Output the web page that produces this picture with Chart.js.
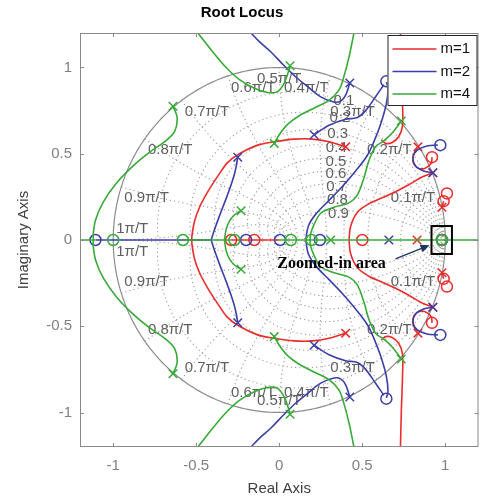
<!DOCTYPE html>
<html>
<head>
<meta charset="utf-8">
<script src="https://cdn.jsdelivr.net/npm/chart.js@4/dist/chart.umd.min.js"></script>
<style>
  html, body { margin: 0; padding: 0; background: #fff; overflow: hidden; }
  #wrap { width: 486px; height: 503px; }
</style>
</head>
<body>
<div id="wrap"><canvas id="rl" width="486" height="503"></canvas></div>
<script>
// axis ticks
const xTicks = [-1, -0.5, 0, 0.5, 1];
const yTicks = [-1, -0.5, 0, 0.5, 1];
const series = ['m=1', 'm=2', 'm=4'];
const colors = ['#ec2b2b', '#3b3fa6', '#37aa37'];

// z-grid: damping ratios and natural frequencies (x pi/T)
const zetaGrid = [0.1, 0.2, 0.3, 0.4, 0.5, 0.6, 0.7, 0.8, 0.9];
const wnGrid = [0.1, 0.2, 0.3, 0.4, 0.5, 0.6, 0.7, 0.8, 0.9, 1];

// ---- m=1 (red), upper half branches [re, im]; lower half is the mirror
const redArc = [[0.40,0.54],[0.30,0.57],[0.20,0.585],[0.09,0.585],[-0.03,0.57],[-0.13,0.55],[-0.24,0.50],[-0.31,0.45],[-0.37,0.37],[-0.43,0.28],[-0.48,0.19],[-0.51,0.11],[-0.525,0.03],[-0.527,0]];
const redHook = [[0.73,1.2],[0.735,1.0],[0.742,0.80],[0.742,0.66],[0.72,0.60],[0.68,0.565],[0.64,0.56],[0.615,0.58]];
const redLoop = [[0.835,0.54],[0.816,0.51],[0.805,0.46],[0.83,0.42],[0.875,0.415],[0.915,0.445],[0.92,0.48]];
const redTiny = [[0.98,0.19],[0.99,0.225]];
const redMid = [[0.42,0],[0.43,0.08],[0.47,0.16],[0.54,0.21],[0.62,0.245],[0.70,0.28],[0.78,0.32],[0.86,0.365],[0.925,0.39]];
const redAxis = [[-0.29,0],[0.0,0]];
const redPoles = [[0.40,0.54],[0.835,0.54],[0.98,0.19],[0.925,0.39],[0.83,0]];
const redZeros = [[0.92,0.48],[0.99,0.225],[1.01,0.27],[0.50,0],[-0.29,0],[-0.15,0],[0.98,0]];

// ---- m=2 (blue)
const blueA = [[-0.25,0.48],[-0.265,0.40],[-0.29,0.32],[-0.32,0.24],[-0.36,0.14],[-0.39,0.06],[-0.41,0]];
const blueB = [[0.425,0.91],[0.40,0.84],[0.37,0.805],[0.33,0.80],[0.25,0.83],[0.17,0.89],[0.10,0.945],[0.03,1.01],[-0.05,1.09],[-0.12,1.15],[-0.17,1.2]];
const blueC = [[0.21,0.61],[0.30,0.665],[0.40,0.70],[0.47,0.71],[0.52,0.75],[0.58,0.83],[0.63,0.90]];
const blueD = [[0.16,0],[0.175,0.08],[0.22,0.15],[0.30,0.23],[0.38,0.31],[0.46,0.40],[0.53,0.49],[0.57,0.57],[0.61,0.67],[0.645,0.79],[0.655,0.88],[0.645,0.915]];
const blueE = [[0.925,0.39],[0.87,0.40],[0.82,0.43],[0.805,0.48],[0.83,0.52],[0.89,0.545],[0.955,0.55]];
const blueAxis = [[-1.107,0],[-0.41,0]];
const bluePoles = [[-0.25,0.48],[0.425,0.91],[0.21,0.61],[0.925,0.39],[0.66,0]];
const blueZeros = [[0.645,0.92],[0.97,0.55],[-1.107,0],[-0.20,0],[0.005,0],[0.245,0],[0.98,0]];

// ---- m=4 (green)
const greenA = [[-0.64,0.775],[-0.615,0.71],[-0.63,0.63],[-0.69,0.57],[-0.78,0.51],[-0.88,0.43],[-0.98,0.33],[-1.06,0.22],[-1.105,0.12],[-1.12,0.04],[-1.12,0]];
const greenB = [[-0.49,1.2],[-0.40,1.09],[-0.32,1.0],[-0.24,0.93],[-0.15,0.88],[-0.07,0.855],[-0.01,0.86],[0.03,0.91],[0.05,0.96],[0.065,1.01]];
const greenC = [[-0.03,0.56],[0.0,0.61],[0.05,0.67],[0.12,0.72],[0.22,0.77],[0.30,0.81],[0.36,0.87],[0.39,0.95],[0.42,1.06],[0.45,1.2]];
const greenD = [[0.735,0.69],[0.68,0.62],[0.63,0.575],[0.58,0.54],[0.54,0.46],[0.51,0.36],[0.47,0.26],[0.42,0.215],[0.33,0.19],[0.25,0.155],[0.21,0.09],[0.19,0.04],[0.185,0]];
const greenE = [[-0.23,0.17],[-0.27,0.145],[-0.30,0.11],[-0.32,0.06],[-0.33,0]];
const greenAxis1 = [[-1.2,0],[-1.107,0]];
const greenAxis2 = [[-0.58,0],[-0.29,0]];
const greenAxis3 = [[0.0,0],[1.2,0]];
const greenPoles = [[-0.64,0.775],[0.065,1.01],[-0.03,0.56],[0.735,0.69],[-0.23,0.17],[0.31,0]];
const greenZeros = [[-1.0,0],[-0.58,0],[-0.27,0],[0.07,0],[0.195,0],[0.98,0]];

const FONT = "'Liberation Sans', Arial, Helvetica, sans-serif";
Chart.defaults.font.family = FONT;

// branches + their conjugates, broken by null points
function lineData(branches, axisSegs) {
  const out = [];
  branches.forEach(b => {
    [b, b.map(([x, y]) => [x, -y])].forEach(p => {
      p.forEach(([x, y]) => out.push({x, y}));
      out.push({x: null, y: null});
    });
  });
  axisSegs.forEach(s => {
    s.forEach(([x, y]) => out.push({x, y}));
    out.push({x: null, y: null});
  });
  return out;
}
function markData(pts) {
  const out = [];
  pts.forEach(([x, y]) => {
    out.push({x, y});
    if (y !== 0) out.push({x, y: -y});
  });
  return out;
}

function lineSet(label, color, data, order) {
  return { label, data, showLine: true, borderColor: color, borderWidth: 1.6,
           pointRadius: 0, tension: 0.35, spanGaps: false, order };
}
function markSet(label, color, data, style, order) {
  return { label, data, showLine: false, pointStyle: style,
           pointRadius: style === 'circle' ? 5.5 : 6,
           pointBorderWidth: 1.5, pointBorderColor: color,
           pointBackgroundColor: 'rgba(0,0,0,0)', order };
}

const datasets = [
  lineSet(series[0], colors[0], lineData([redArc, redHook, redLoop, redTiny, redMid], [redAxis]), 6),
  markSet(series[0], colors[0], markData(redPoles), 'crossRot', 5),
  markSet(series[0], colors[0], markData(redZeros), 'circle', 5),
  lineSet(series[1], colors[1], lineData([blueA, blueB, blueC, blueD, blueE], [blueAxis]), 4),
  markSet(series[1], colors[1], markData(bluePoles), 'crossRot', 3),
  markSet(series[1], colors[1], markData(blueZeros), 'circle', 3),
  lineSet(series[2], colors[2], lineData([greenA, greenB, greenC, greenD, greenE], [greenAxis1, greenAxis2, greenAxis3]), 2),
  markSet(series[2], colors[2], markData(greenPoles), 'crossRot', 1),
  markSet(series[2], colors[2], markData(greenZeros), 'circle', 1)
];

// z-plane grid drawn under the loci
const zgrid = {
  id: 'zgrid',
  beforeDatasetsDraw(chart) {
    const {ctx, chartArea: a, scales: {x, y}} = chart;
    const P = (re, im) => [x.getPixelForValue(re), y.getPixelForValue(im)];
    ctx.save();
    ctx.beginPath();
    ctx.rect(a.left, a.top, a.right - a.left, a.bottom - a.top);
    ctx.clip();

    ctx.strokeStyle = '#9c9c9c';
    ctx.lineWidth = 1.1;
    ctx.setLineDash([1.2, 3]);
    const stroke = f => {
      [1, -1].forEach(sg => {
        ctx.beginPath();
        for (let i = 0; i <= 200; i++) {
          const [re, im] = f(i / 200);
          const [X, Y] = P(re, sg * im);
          i ? ctx.lineTo(X, Y) : ctx.moveTo(X, Y);
        }
        ctx.stroke();
      });
    };
    zetaGrid.forEach(z => {
      const q = Math.sqrt(1 - z * z);
      stroke(t => {
        const w = t * Math.PI / q, r = Math.exp(-z * w);
        return [r * Math.cos(w * q), r * Math.sin(w * q)];
      });
    });
    wnGrid.forEach(k => {
      const wn = k * Math.PI;
      stroke(t => {
        const r = Math.exp(-t * wn), ang = wn * Math.sqrt(1 - t * t);
        return [r * Math.cos(ang), r * Math.sin(ang)];
      });
    });

    // unit circle
    ctx.setLineDash([]);
    ctx.strokeStyle = '#8c8c8c';
    ctx.lineWidth = 1.2;
    ctx.beginPath();
    for (let i = 0; i <= 360; i++) {
      const t = i / 180 * Math.PI;
      const [X, Y] = P(Math.cos(t), Math.sin(t));
      i ? ctx.lineTo(X, Y) : ctx.moveTo(X, Y);
    }
    ctx.stroke();

    // frequency labels at the unit circle
    ctx.fillStyle = '#5f5f5f';
    ctx.font = '15px ' + FONT;
    wnGrid.forEach(k => {
      const t = k * Math.PI;
      const txt = (k === 1 ? '1' : String(k)) + '\u03c0/T';
      ctx.textAlign = k < 0.5 ? 'right' : (k > 0.5 ? 'left' : 'center');
      const dx = k < 0.5 ? -2 : (k > 0.5 ? 3 : 0);
      [1, -1].forEach(sg => {
        const [X, Y] = P(Math.cos(t), sg * Math.sin(t));
        ctx.textBaseline = sg > 0 ? 'top' : 'bottom';
        ctx.fillText(txt, X + dx, Y + sg * 4);
      });
    });
    // damping labels
    ctx.textAlign = 'left';
    ctx.textBaseline = 'middle';
    zetaGrid.forEach(z => {
      const q = Math.sqrt(1 - z * z), w = 1.2, r = Math.exp(-z * w);
      const [X, Y] = P(r * Math.cos(w * q), r * Math.sin(w * q));
      ctx.fillText(String(z), X, Y + 3);
    });
    ctx.restore();
  }
};

// frame, inward ticks, legend and annotation
const decor = {
  id: 'decor',
  afterDraw(chart) {
    const {ctx, chartArea: a, scales: {x, y}} = chart;
    ctx.save();
    ctx.strokeStyle = '#8a8a8a';
    ctx.lineWidth = 1;
    ctx.strokeRect(a.left + 0.5, a.top + 0.5, a.right - a.left - 1, a.bottom - a.top - 1);
    ctx.beginPath();
    xTicks.forEach(v => {
      const X = Math.round(x.getPixelForValue(v)) + 0.5;
      ctx.moveTo(X, a.bottom); ctx.lineTo(X, a.bottom - 4);
      ctx.moveTo(X, a.top); ctx.lineTo(X, a.top + 4);
    });
    yTicks.forEach(v => {
      const Y = Math.round(y.getPixelForValue(v)) + 0.5;
      ctx.moveTo(a.left, Y); ctx.lineTo(a.left + 4, Y);
      ctx.moveTo(a.right, Y); ctx.lineTo(a.right - 4, Y);
    });
    ctx.stroke();

    // zoom box + note
    const bx0 = x.getPixelForValue(0.917), bx1 = x.getPixelForValue(1.04);
    const by0 = y.getPixelForValue(0.081), by1 = y.getPixelForValue(-0.081);
    ctx.strokeStyle = '#000';
    ctx.lineWidth = 2;
    ctx.strokeRect(bx0, by0, bx1 - bx0, by1 - by0);

    ctx.fillStyle = '#000';
    ctx.font = 'bold 16px "Liberation Serif", "Times New Roman", serif';
    ctx.textAlign = 'left';
    ctx.textBaseline = 'middle';
    ctx.fillText('Zoomed-in area', x.getPixelForValue(-0.012), y.getPixelForValue(-0.139));

    const ax0 = x.getPixelForValue(0.70), ay0 = y.getPixelForValue(-0.11);
    const ax1 = x.getPixelForValue(0.905), ay1 = y.getPixelForValue(-0.03);
    const ang = Math.atan2(ay1 - ay0, ax1 - ax0);
    ctx.strokeStyle = '#1d3561';
    ctx.fillStyle = '#1d3561';
    ctx.lineWidth = 1.3;
    ctx.beginPath(); ctx.moveTo(ax0, ay0); ctx.lineTo(ax1 - 6 * Math.cos(ang), ay1 - 6 * Math.sin(ang)); ctx.stroke();
    ctx.beginPath();
    ctx.moveTo(ax1, ay1);
    ctx.lineTo(ax1 - 9 * Math.cos(ang) + 4 * Math.sin(ang), ay1 - 9 * Math.sin(ang) - 4 * Math.cos(ang));
    ctx.lineTo(ax1 - 9 * Math.cos(ang) - 4 * Math.sin(ang), ay1 - 9 * Math.sin(ang) + 4 * Math.cos(ang));
    ctx.closePath(); ctx.fill();

    // legend
    const lx = a.right - 91, ly = a.top + 2, lw = 89, lh = 70;
    ctx.fillStyle = '#fff';
    ctx.fillRect(lx, ly, lw, lh);
    ctx.strokeStyle = '#262626';
    ctx.lineWidth = 1;
    ctx.strokeRect(lx + 0.5, ly + 0.5, lw, lh);
    ctx.font = '15px ' + FONT;
    ctx.textBaseline = 'middle';
    ctx.textAlign = 'left';
    series.forEach((s, i) => {
      const ry = ly + 14 + i * 22.5;
      ctx.strokeStyle = colors[i];
      ctx.lineWidth = 1.6;
      ctx.beginPath(); ctx.moveTo(lx + 5, ry); ctx.lineTo(lx + 49, ry); ctx.stroke();
      ctx.fillStyle = '#111';
      ctx.fillText(s, lx + 53, ry);
    });
    ctx.restore();
  }
};

new Chart(document.getElementById('rl'), {
  type: 'scatter',
  data: { datasets },
  options: {
    responsive: false,
    animation: false,
    events: [],
    devicePixelRatio: 1,
    layout: { padding: { left: 0, right: 2, top: 0, bottom: 0 } },
    plugins: {
      legend: { display: false },
      tooltip: { enabled: false },
      title: {
        display: true, text: 'Root Locus', color: '#000',
        font: { size: 15, weight: 'bold' }, padding: { top: 4, bottom: 11 }
      }
    },
    scales: {
      x: {
        type: 'linear', min: -1.2, max: 1.2,
        afterBuildTicks: s => { s.ticks = xTicks.map(v => ({ value: v })); },
        afterFit: s => { s.height = 56; },
        grid: { display: false, drawTicks: false },
        border: { display: false },
        ticks: { color: '#808080', font: { size: 15 }, padding: 10, maxRotation: 0, callback: v => String(v) },
        title: { display: true, text: 'Real Axis', color: '#404040', font: { size: 15 }, padding: { top: 0, bottom: 5 } }
      },
      y: {
        type: 'linear', min: -1.2, max: 1.2,
        afterBuildTicks: s => { s.ticks = yTicks.map(v => ({ value: v })); },
        afterFit: s => { s.width = 80; },
        grid: { display: false, drawTicks: false },
        border: { display: false },
        ticks: { color: '#808080', font: { size: 15 }, padding: 8, callback: v => String(v) },
        title: { display: true, text: 'Imaginary Axis', color: '#404040', font: { size: 15 }, padding: { top: 15, bottom: 0 } }
      }
    }
  },
  plugins: [zgrid, decor]
});
</script>
</body>
</html>
